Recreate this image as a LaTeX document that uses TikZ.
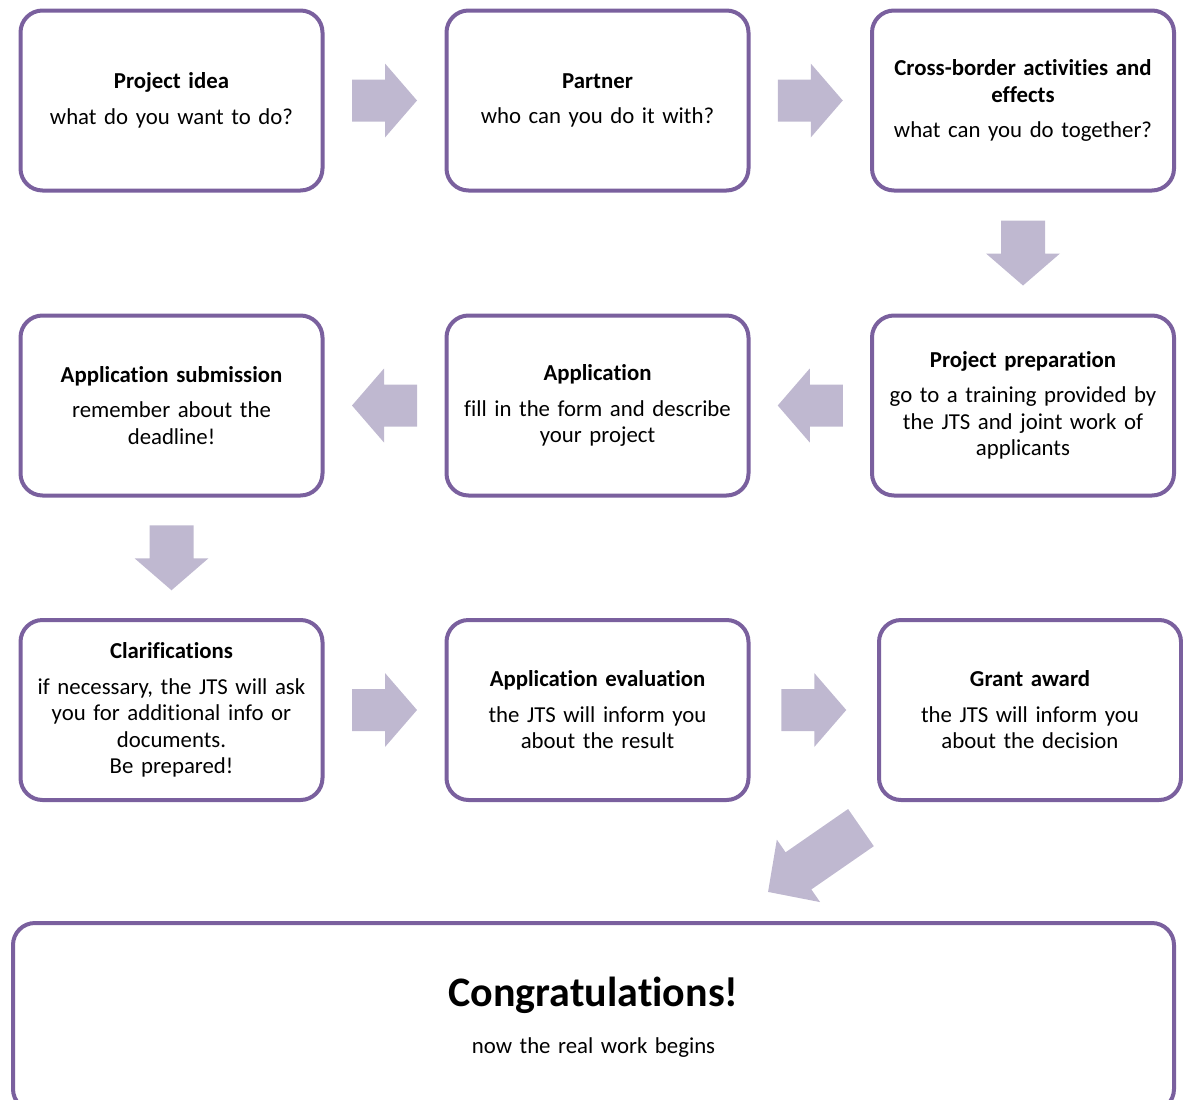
\documentclass[tikz,border=0pt]{standalone}
\usepackage{fontspec}
\setmainfont[Ligatures=NoCommon]{Carlito}
\usetikzlibrary{calc}
\definecolor{boxline}{RGB}{122,96,158}
\definecolor{arrowfill}{RGB}{191,184,208}
\tikzset{
  stepbox/.style={draw=boxline, line width=4pt, rounded corners=22pt, fill=white,
    minimum width=302pt, minimum height=180pt, align=center, text width=296pt,
    inner sep=0pt, font=\fontsize{22.8}{26.5}\selectfont},
  pics/barrow/.style n args={4}{code={
    \fill[arrowfill] (-#1/2,-#3) -- (#1/2-#2,-#3) -- (#1/2-#2,-#4) -- (#1/2,0)
      -- (#1/2-#2,#4) -- (#1/2-#2,#3) -- (-#1/2,#3) -- cycle;}}
}
\newcommand{\bt}[2]{{\bfseries #1}\\[9pt]#2}
\begin{document}
\begin{tikzpicture}[x=1pt,y=-1pt]
\useasboundingbox (0,0) rectangle (1183,1100);
\node[stepbox] (idea) at (171.5,100.5) {\bt{Project idea}{what do you want to do?}};
\node[stepbox] (partner) at (597.5,100.5) {\bt{Partner}{who can you do it with?}};
\node[stepbox] (cross) at (1023,100.5) {\bt{Cross-border activities and\\effects}{what can you do together?}};
\node[stepbox] (prep) at (1023,405.5) {\bt{Project preparation}{go to a training provided by\\the JTS and joint work of\\applicants}};
\node[stepbox] (appl) at (597.5,405.5) {\bt{Application}{fill in the form and describe\\your project}};
\node[stepbox] (subm) at (171.5,405.5) {\bt{Application submission}{remember about the\\deadline!}};
\node[stepbox] (clar) at (171.5,710) {\bt{Clarifications}{if necessary, the JTS will ask\\you for additional info or\\documents.\\Be prepared!}};
\node[stepbox] (eval) at (597.5,710) {\bt{Application evaluation}{the JTS will inform you\\about the result}};
\node[stepbox] (grant) at (1030,710) {\bt{Grant award}{the JTS will inform you\\about the decision}};
\node[stepbox, minimum width=1161pt, minimum height=188pt, text width=1100pt] (congr) at (593.5,1017)
  {{\bfseries\fontsize{42}{48}\selectfont Congratulations!}\\[20pt]now the real work begins};
% block arrows
\pic at ($(idea.east)!0.5!(partner.west)$) {barrow={65}{32}{21}{37}};
\pic at ($(partner.east)!0.5!(cross.west)$) {barrow={65}{32}{21}{37}};
\pic[rotate=-90] at ($(cross.south)!0.5!(prep.north)$) {barrow={65}{32}{22}{37}};
\pic[rotate=180] at ($(prep.west)!0.5!(appl.east)$) {barrow={65}{32}{21}{37}};
\pic[rotate=180] at ($(appl.west)!0.5!(subm.east)$) {barrow={65}{32}{21}{37}};
\pic[rotate=-90] at ($(subm.south)!0.5!(clar.north)$) {barrow={65}{32}{22}{37}};
\pic at ($(clar.east)!0.5!(eval.west)$) {barrow={65}{32}{21}{37}};
\pic at ($(eval.east)!0.5!(grant.west)$) {barrow={65}{32}{21}{37}};
\coordinate (diag) at (814.5,859.75);
\pic[rotate=214.7] at (diag) {barrow={113}{37}{22.6}{38}};
\end{tikzpicture}
\end{document}
